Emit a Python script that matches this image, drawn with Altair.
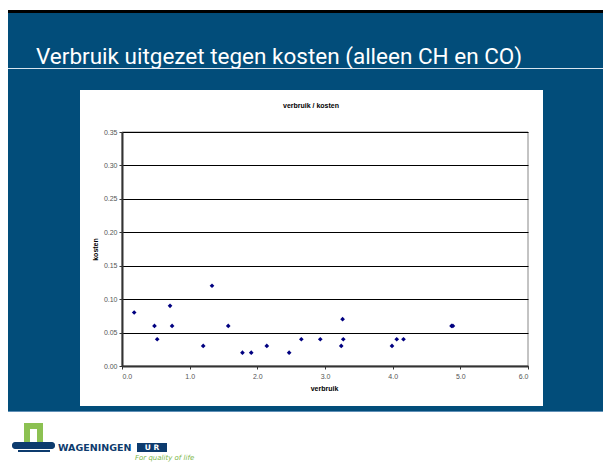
import altair as alt
import pandas as pd

# --- data -------------------------------------------------------------------
verbruik = [0.18, 0.48, 0.52, 0.71, 0.74, 1.20, 1.33, 1.57, 1.78, 1.91, 2.14,
            2.47, 2.65, 2.93, 3.24, 3.26, 3.27, 3.99, 4.06, 4.16, 4.87, 4.89]
kosten = [0.08, 0.06, 0.04, 0.09, 0.06, 0.03, 0.12, 0.06, 0.02, 0.02, 0.03,
          0.02, 0.04, 0.04, 0.03, 0.07, 0.04, 0.03, 0.04, 0.04, 0.06, 0.06]
x_ticks = [0, 1, 2, 3, 4, 5, 6]
y_ticks = [0.0, 0.05, 0.10, 0.15, 0.20, 0.25, 0.30, 0.35]

slide_title = "Verbruik uitgezet tegen kosten (alleen CH en CO)"
chart_title = "verbruik / kosten"
x_title = "verbruik"
y_title = "kosten"

df = pd.DataFrame({"verbruik": verbruik, "kosten": kosten})
one = pd.DataFrame({"a": [0]})

W, H = 406, 234
PL, PT, PR, PB = 114, 124, 75, 96

SLIDE_BLUE = "#024d7a"
NAVY = "#0d3b6e"
GREEN = "#8cc152"
TITLEFONT = "Roboto"
ARIAL = "Liberation Sans, Arial, sans-serif"


def rect(x, x2, y, y2, **kw):
    return alt.Chart(one).mark_rect(**kw).encode(
        x=alt.value(x), x2=alt.value(x2), y=alt.value(y), y2=alt.value(y2))


def text(s, x, y, **kw):
    return alt.Chart(one).mark_text(**kw).encode(
        x=alt.value(x), y=alt.value(y), text=alt.value(s))


layers = [
    # slide frame
    rect(-PL, W + PR, -122, -119, color="black"),
    rect(-PL, W + PR, -119, 279, color=SLIDE_BLUE),
    rect(-PL, W + PR, 279, 280, color="#5f8fb6"),
    text(slide_title, -86, -68, align="left", baseline="alphabetic",
         font=TITLEFONT, fontSize=22.5, color="white"),
    rect(-PL, W + PR, -64, -63, color="#d8e4ee"),
    # white chart box
    rect(-42, 421, -42, 274, color="white"),
    text(chart_title, 189, -26, align="center", baseline="middle",
         font=ARIAL, fontSize=7, fontWeight="bold", color="black"),
    # plot border
    alt.Chart(one).mark_rect(fill="white", stroke="#888888", strokeWidth=1).encode(
        x=alt.value(0), x2=alt.value(W), y=alt.value(0), y2=alt.value(H)),
    # logo
    rect(-98, -79, 291, 313, color=GREEN),
    rect(-92, -85, 297, 313, color="white"),
    rect(-110, -67, 310, 317, color=NAVY, cornerRadius=3),
    rect(-104, -72, 318, 320, color=NAVY),
    text("WAGENINGEN", -64, 319, align="left", baseline="alphabetic",
         font="DejaVu Sans", fontSize=9.5, fontWeight="bold", color=NAVY),
    rect(15, 45, 311, 320, color=NAVY),
    text("U R", 30, 316, align="center", baseline="middle",
         font="DejaVu Sans", fontSize=7.5, fontWeight="bold", color="white"),
    text("For quality of life", 13, 328, align="left", baseline="alphabetic",
         font="DejaVu Sans", fontSize=7, fontStyle="italic", color="#7ab648"),
]

points = alt.Chart(df).mark_point(
    shape="diamond", filled=True, color="#000080", size=22, opacity=1
).encode(
    x=alt.X("verbruik:Q",
            scale=alt.Scale(domain=[0, 6], nice=False, zero=True),
            axis=alt.Axis(values=x_ticks, format=".1f", title=x_title,
                          grid=False, zindex=1,
                          domainColor="#333333", domainWidth=2,
                          tickColor="#333333", tickSize=3,
                          labelFont=ARIAL, labelFontSize=7, labelColor="#555555",
                          labelPadding=3,
                          titleFont=ARIAL, titleFontSize=7, titleFontWeight="bold",
                          titleColor="black", titleX=202, titleY=22,
                          titleBaseline="middle")),
    y=alt.Y("kosten:Q",
            scale=alt.Scale(domain=[0, 0.35], nice=False),
            axis=alt.Axis(values=y_ticks, format=".2f", title=y_title,
                          grid=True, gridColor="#000000", gridWidth=1,
                          zindex=1,
                          domainColor="#333333", domainWidth=2,
                          tickColor="#333333", tickSize=3,
                          labelFont=ARIAL, labelFontSize=7, labelColor="#555555",
                          labelPadding=2,
                          titleFont=ARIAL, titleFontSize=7, titleFontWeight="bold",
                          titleColor="black", titleX=-27, titleY=117,
                          titleAngle=270, titleBaseline="middle",
                          titleAlign="center")),
)

chart = alt.layer(*layers, points).properties(
    width=W, height=H,
    padding={"left": PL, "top": PT, "right": PR, "bottom": PB},
    autosize=alt.AutoSizeParams(type="none"),
    background="white",
).configure_view(stroke=None, fill=None)

chart.save("out.html", embed_options={"renderer": "svg", "actions": False})
